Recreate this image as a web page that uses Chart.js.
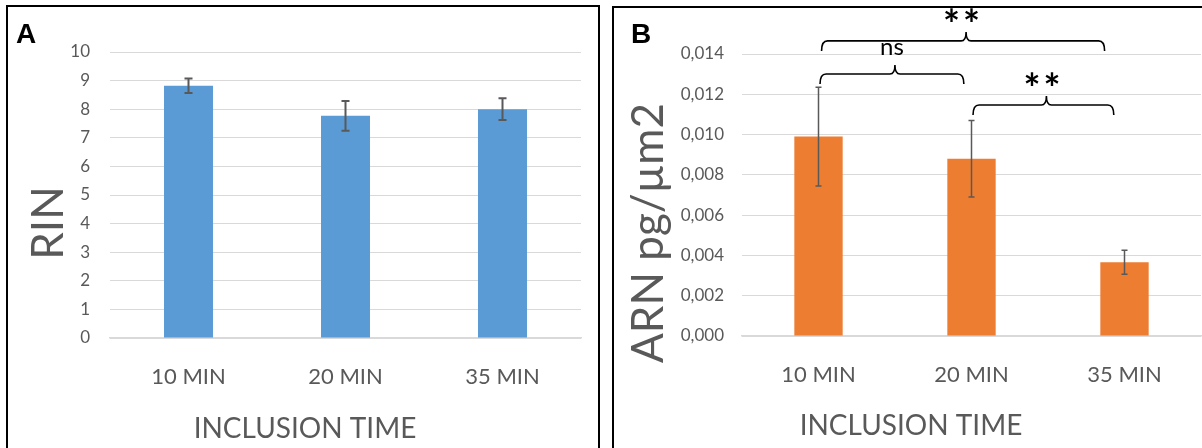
<!DOCTYPE html>
<html>
<head>
<meta charset="utf-8">
<script src="https://cdn.jsdelivr.net/npm/chart.js@4.4.1/dist/chart.umd.min.js"></script>
<style>
  body { margin: 0; background: #fff; width: 1202px; height: 448px; overflow: hidden; position: relative; }
  .frame { position: absolute; border: 2px solid #000; box-sizing: border-box; }
  .box { position: absolute; }
</style>
</head>
<body>
<div class="frame" style="left:6px;top:5px;width:594px;height:500px"></div>
<div class="frame" style="left:612px;top:6px;width:700px;height:500px"></div>
<div class="box" style="left:8px;top:7px;width:590px;height:441px"><canvas id="chartA"></canvas></div>
<div class="box" style="left:614px;top:8px;width:588px;height:440px"><canvas id="chartB"></canvas></div>
<script>
// Data
const categories = ['10 MIN', '20 MIN', '35 MIN'];
const rinValues = [8.82, 7.77, 8.0];
const rinErrors = [0.25, 0.52, 0.38];
const arnValues = [0.0099, 0.0088, 0.00366];
const arnErrors = [0.00245, 0.0019, 0.0006];

// significance brackets on panel B (x in category units, level in ARN units)
const brackets = [
    { from: 0.02, to: 1.87, level: 0.01465, label: '**' },
    { from: 0.01, to: 0.95, level: 0.01301, label: 'ns' },
    { from: 1.01, to: 1.93, level: 0.01147, label: '**' }
];

const grey = '#595959';
const gridGrey = '#d9d9d9';

// error bars
const errorBarPlugin = {
    id: 'errorBars',
    afterDatasetsDraw(chart, args, opts) {
        const { ctx, scales: { x, y } } = chart;
        const values = chart.data.datasets[0].data;
        ctx.save();
        ctx.strokeStyle = grey;
        ctx.lineWidth = opts.width;
        values.forEach((v, i) => {
            const px = x.getPixelForValue(i);
            const top = y.getPixelForValue(v + opts.errors[i]);
            const bot = y.getPixelForValue(v - opts.errors[i]);
            ctx.beginPath();
            ctx.moveTo(px, top); ctx.lineTo(px, bot);
            ctx.moveTo(px - opts.cap, top); ctx.lineTo(px + opts.cap, top);
            ctx.moveTo(px - opts.cap, bot); ctx.lineTo(px + opts.cap, bot);
            ctx.stroke();
        });
        ctx.restore();
    }
};

// panel letter + axis titles
const panelTextPlugin = {
    id: 'panelText',
    afterDraw(chart, args, o) {
        const ctx = chart.ctx;
        ctx.save();
        ctx.fillStyle = '#000';
        ctx.font = 'bold 28px "Liberation Sans"';
        ctx.textAlign = 'left';
        ctx.textBaseline = 'alphabetic';
        ctx.fillText(o.letter, o.letterX, o.letterY);

        ctx.fillStyle = grey;
        ctx.textAlign = 'center';
        ctx.font = '28px Lato';
        ctx.fillText(o.xTitle, o.xTitleX, o.xTitleY);

        ctx.translate(o.yTitleX, o.yTitleY);
        ctx.rotate(-Math.PI / 2);
        ctx.font = '44px Lato';
        ctx.fillText(o.yTitle, 0, 0);
        ctx.restore();
    }
};

// curly brackets with labels
const bracketPlugin = {
    id: 'brackets',
    afterDraw(chart, args, o) {
        if (!o.items) return;
        const { ctx, scales: { x, y } } = chart;
        ctx.save();
        ctx.strokeStyle = '#000';
        ctx.fillStyle = '#000';
        ctx.lineWidth = 1.6;
        ctx.textAlign = 'center';
        ctx.textBaseline = 'alphabetic';
        o.items.forEach(b => {
            const x0 = x.getPixelForValue(b.from);
            const x1 = x.getPixelForValue(b.to);
            const xc = (x0 + x1) / 2 + 3;
            const yl = y.getPixelForValue(b.level);
            ctx.beginPath();
            ctx.moveTo(x0, yl + 10);
            ctx.quadraticCurveTo(x0, yl, x0 + 6, yl);
            ctx.lineTo(xc - 5, yl);
            ctx.quadraticCurveTo(xc, yl, xc, yl - 9);
            ctx.quadraticCurveTo(xc, yl, xc + 5, yl);
            ctx.lineTo(x1 - 6, yl);
            ctx.quadraticCurveTo(x1, yl, x1, yl + 10);
            ctx.stroke();

            const stars = b.label.includes('*');
            ctx.font = stars ? 'bold 40px Lato' : '24px Lato';
            ctx.letterSpacing = stars ? '3px' : '0px';
            const m = ctx.measureText(b.label);
            const bottom = yl - 9 - 10;
            ctx.fillText(b.label, xc - 3, bottom - m.actualBoundingBoxDescent);
        });
        ctx.restore();
    }
};

function makeChart(id, values, color, yOpts, layout, extras) {
    return new Chart(document.getElementById(id), {
        type: 'bar',
        data: {
            labels: categories,
            datasets: [{
                data: values,
                backgroundColor: color,
                borderWidth: 0,
                barPercentage: layout.barPct,
                categoryPercentage: 1
            }]
        },
        plugins: [errorBarPlugin, panelTextPlugin, bracketPlugin],
        options: {
            responsive: true,
            maintainAspectRatio: false,
            animation: false,
            layout: {
                padding: { top: layout.top, right: layout.right, left: 0, bottom: 0 }
            },
            scales: {
                x: {
                    grid: { display: false },
                    border: { color: gridGrey, width: 1.5 },
                    ticks: { color: grey, font: { family: 'Lato', size: 22 }, padding: 18 },
                    afterFit: s => { s.height = layout.xHeight; }
                },
                y: Object.assign({
                    border: { display: false },
                    grid: { color: gridGrey, drawTicks: false },
                    afterFit: s => { s.width = layout.yWidth; }
                }, yOpts)
            },
            plugins: Object.assign({
                legend: { display: false },
                tooltip: { enabled: false }
            }, extras)
        }
    });
}

// Panel A
makeChart('chartA', rinValues, '#5b9bd5', {
    min: 0, max: 10,
    ticks: { stepSize: 1, color: grey, font: { family: 'Lato', size: 17 }, padding: 20 }
}, { top: 45, right: 17, xHeight: 110, yWidth: 102, barPct: 0.312 }, {
    errorBars: { errors: rinErrors, width: 2, cap: 4 },
    panelText: {
        letter: 'A', letterX: 8, letterY: 36,
        xTitle: 'INCLUSION TIME', xTitleX: 297, xTitleY: 431,
        yTitle: 'RIN', yTitleX: 55, yTitleY: 216
    },
    brackets: {}
});

// Panel B
makeChart('chartB', arnValues, '#ed7d31', {
    min: 0, max: 0.014,
    ticks: {
        stepSize: 0.002, color: grey, font: { family: 'Lato', size: 17 }, padding: 18,
        callback: v => v.toFixed(3).replace('.', ',')
    }
}, { top: 46, right: 1, xHeight: 112, yWidth: 128, barPct: 0.316 }, {
    errorBars: { errors: arnErrors, width: 1.5, cap: 3 },
    panelText: {
        letter: 'B', letterX: 17, letterY: 35,
        xTitle: 'INCLUSION TIME', xTitleX: 297, xTitleY: 427,
        yTitle: 'ARN pg/µm2', yTitleX: 49, yTitleY: 225
    },
    brackets: { items: brackets }
});
</script>
</body>
</html>
